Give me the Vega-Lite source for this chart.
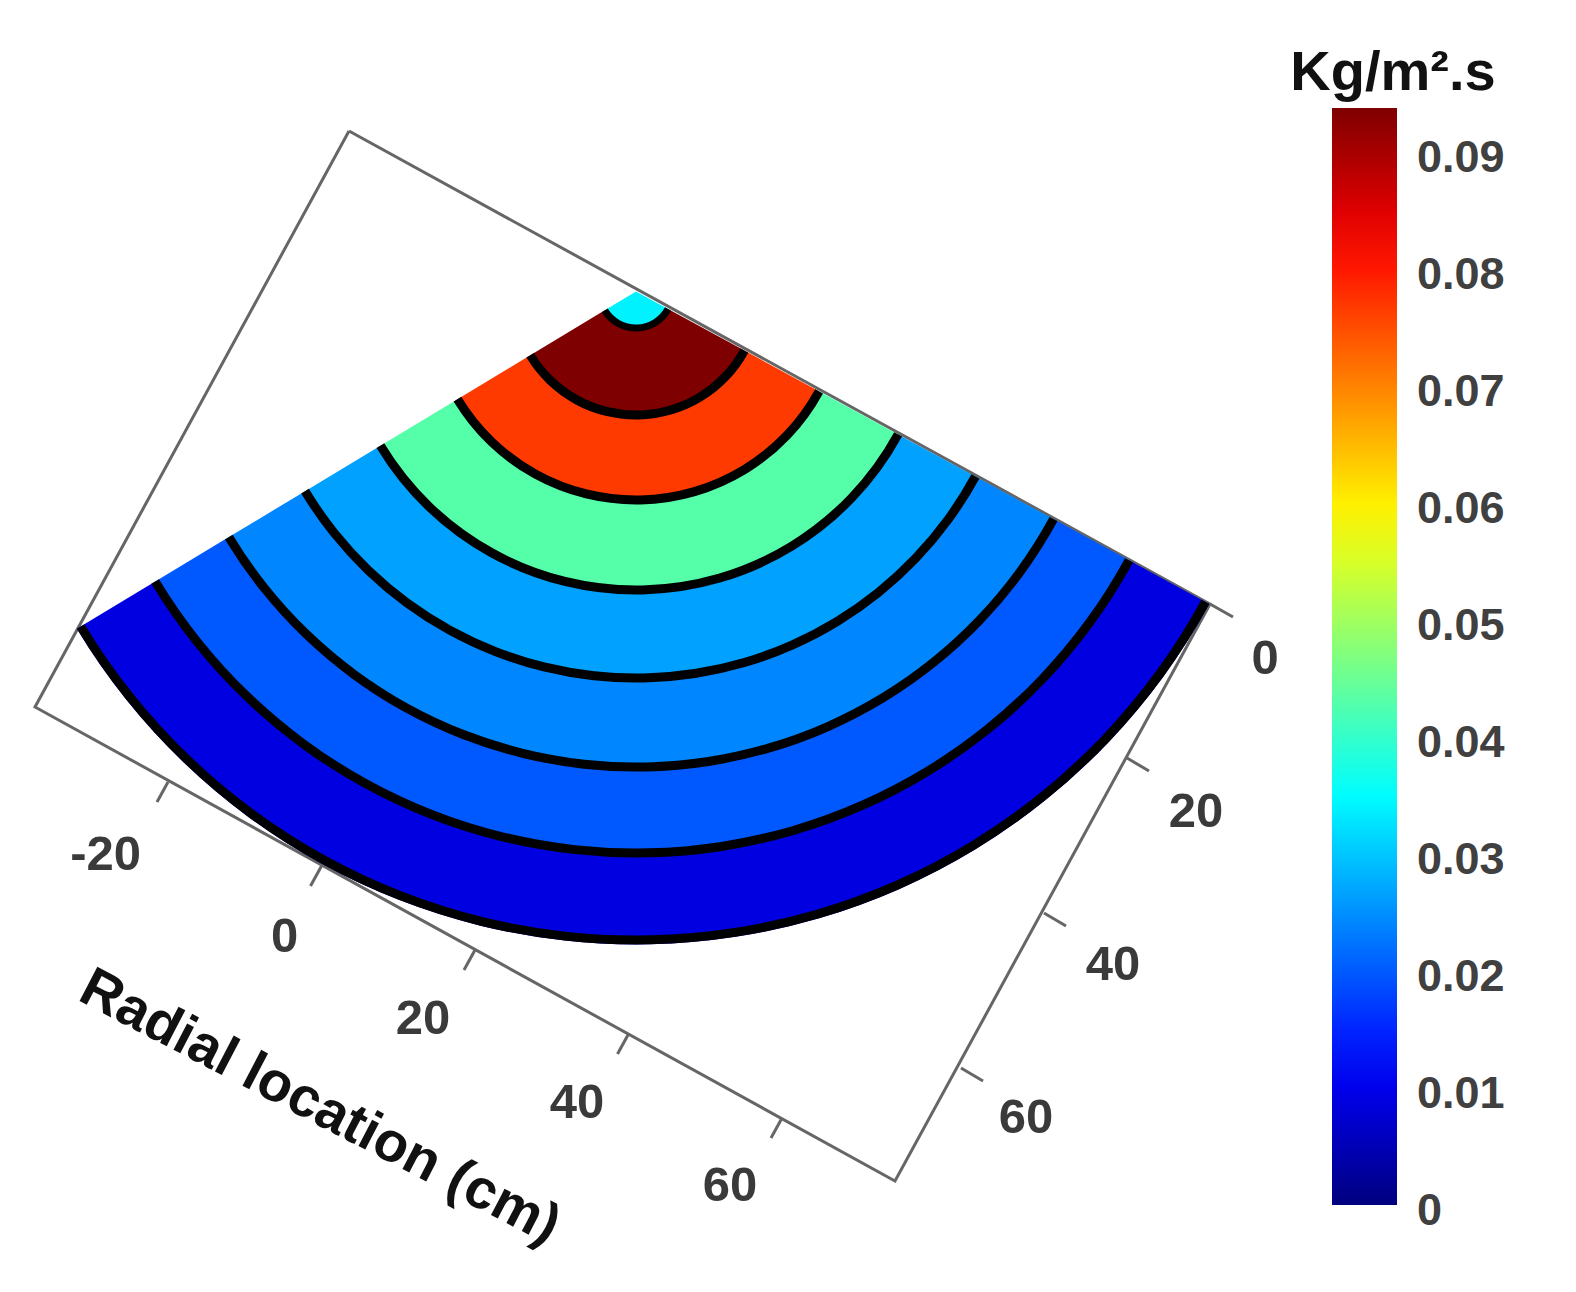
{
  "$schema": "https://vega.github.io/schema/vega-lite/v6.json",
  "width": 1576,
  "height": 1292,
  "padding": 0,
  "autosize": {"type": "fit", "contains": "padding"},
  "background": "white",
  "config": {"view": {"stroke": null}},
  "datasets": {
    "frame": [
      {"order": 1, "px": 34.9, "py": 13.1},
      {"order": 2, "px": 121.0, "py": 60.4},
      {"order": 3, "px": 89.5, "py": 118.1},
      {"order": 4, "px": 3.5, "py": 70.7},
      {"order": 5, "px": 34.9, "py": 13.1}
    ],
    "ticks": [
      {"px": 16.8, "py": 78.2, "px2": 15.7, "py2": 80.2},
      {"px": 32.15, "py": 86.6, "px2": 31.05, "py2": 88.6},
      {"px": 47.5, "py": 95.0, "px2": 46.4, "py2": 97.0},
      {"px": 62.85, "py": 103.4, "px2": 61.75, "py2": 105.4},
      {"px": 78.2, "py": 111.8, "px2": 77.1, "py2": 113.8},
      {"px": 121.0, "py": 60.4, "px2": 123.3, "py2": 61.7},
      {"px": 112.7, "py": 75.8, "px2": 114.9, "py2": 77.1},
      {"px": 104.4, "py": 91.3, "px2": 106.6, "py2": 92.6},
      {"px": 96.1, "py": 106.8, "px2": 98.3, "py2": 108.1}
    ],
    "bands": [
      {"flux": 0.0089, "r_in": 56.15, "r_out": 65.3},
      {"flux": 0.0199, "r_in": 47.55, "r_out": 56.15},
      {"flux": 0.02415, "r_in": 38.65, "r_out": 47.55},
      {"flux": 0.0265, "r_in": 29.85, "r_out": 38.65},
      {"flux": 0.043, "r_in": 20.85, "r_out": 29.85},
      {"flux": 0.0767, "r_in": 12.35, "r_out": 20.85},
      {"flux": 0.0938, "r_in": 3.65, "r_out": 12.35},
      {"flux": 0.034, "r_in": 0, "r_out": 3.65}
    ],
    "contours": [
      {"r_in": 3.3, "r_out": 4.0},
      {"r_in": 11.9, "r_out": 12.8},
      {"r_in": 20.4, "r_out": 21.3},
      {"r_in": 29.4, "r_out": 30.3},
      {"r_in": 38.2, "r_out": 39.1},
      {"r_in": 47.1, "r_out": 48.0},
      {"r_in": 55.7, "r_out": 56.6},
      {"r_in": 64.4, "r_out": 65.3}
    ],
    "tick_labels": [
      {"label": "-20", "px": 10.56, "py": 85.45},
      {"label": "0", "px": 28.45, "py": 93.7},
      {"label": "20", "px": 42.3, "py": 101.9},
      {"label": "40", "px": 57.7, "py": 110.3},
      {"label": "60", "px": 73.0, "py": 118.6},
      {"label": "0", "px": 126.5, "py": 65.85},
      {"label": "20", "px": 119.6, "py": 81.2},
      {"label": "40", "px": 111.3, "py": 96.5},
      {"label": "60", "px": 102.6, "py": 111.8}
    ]
  },
  "layer": [
    {
      "data": {"name": "frame"},
      "mark": {"type": "line", "color": "#666666", "strokeWidth": 3},
      "encoding": {
        "x": {"field": "px", "type": "quantitative", "axis": null, "scale": {"domain": [0, 157.6], "nice": false, "zero": false}},
        "y": {"field": "py", "type": "quantitative", "axis": null, "scale": {"domain": [129.2, 0], "nice": false, "zero": false}},
        "order": {"field": "order"}
      }
    },
    {
      "data": {"name": "ticks"},
      "mark": {"type": "rule", "color": "#666666", "strokeWidth": 3},
      "encoding": {
        "x": {"field": "px", "type": "quantitative"},
        "y": {"field": "py", "type": "quantitative"},
        "x2": {"field": "px2"},
        "y2": {"field": "py2"}
      }
    },
    {
      "data": {"name": "bands"},
      "mark": {"type": "arc"},
      "encoding": {
        "x": {"datum": 63.6, "type": "quantitative"},
        "y": {"datum": 29.15, "type": "quantitative"},
        "theta": {"datum": 118.6, "type": "quantitative", "scale": {"domain": [0, 360], "range": [0, 6.28319]}},
        "theta2": {"datum": 238.9},
        "radius": {"field": "r_out", "type": "quantitative", "scale": {"type": "linear", "domain": [0, 157.6], "range": [0, 1576], "zero": false, "nice": false}},
        "radius2": {"field": "r_in"},
        "color": {
          "field": "flux",
          "type": "quantitative",
          "scale": {
            "domain": [0, 0.011725, 0.035175, 0.058625, 0.082075, 0.0938],
            "range": ["#00007f", "#0000ff", "#00ffff", "#ffff00", "#ff0000", "#7f0000"],
            "interpolate": "rgb"
          },
          "legend": {
            "orient": "none",
            "legendX": 1332,
            "legendY": 108,
            "title": null,
            "gradientLength": 1097,
            "gradientThickness": 65,
            "values": [0, 0.01, 0.02, 0.03, 0.04, 0.05, 0.06, 0.07, 0.08, 0.09],
            "format": ".2~f",
            "labelFont": "Liberation Sans",
            "labelFontWeight": "bold",
            "labelFontSize": 45,
            "labelColor": "#404040",
            "labelOffset": 20,
            "labelOverlap": false,
            "tickCount": 10,
            "encoding": {"labels": {"baseline": {"value": "middle"}, "dy": {"value": 6}}}
          }
        }
      }
    },
    {
      "data": {"name": "contours"},
      "mark": {"type": "arc", "color": "black"},
      "encoding": {
        "x": {"datum": 63.6, "type": "quantitative"},
        "y": {"datum": 29.15, "type": "quantitative"},
        "theta": {"datum": 118.6, "type": "quantitative"},
        "theta2": {"datum": 238.9},
        "radius": {"field": "r_out", "type": "quantitative"},
        "radius2": {"field": "r_in"}
      }
    },
    {
      "data": {"name": "tick_labels"},
      "mark": {"type": "text", "font": "Liberation Sans", "fontWeight": "bold", "fontSize": 49, "color": "#3a3a3a", "align": "center", "baseline": "middle"},
      "encoding": {
        "x": {"field": "px", "type": "quantitative"},
        "y": {"field": "py", "type": "quantitative"},
        "text": {"field": "label"}
      }
    },
    {
      "data": {"values": [{"label": "Radial location (cm)", "px": 32.0, "py": 110.7}]},
      "mark": {"type": "text", "font": "Liberation Sans", "fontWeight": "bold", "fontSize": 56, "color": "#111111", "align": "center", "baseline": "middle", "angle": 27.5},
      "encoding": {
        "x": {"field": "px", "type": "quantitative"},
        "y": {"field": "py", "type": "quantitative"},
        "text": {"field": "label"}
      }
    },
    {
      "data": {"values": [{"label": "Kg/m².s", "px": 139.3, "py": 7.3}]},
      "mark": {"type": "text", "font": "Liberation Sans", "fontWeight": "bold", "fontSize": 56, "color": "#111111", "align": "center", "baseline": "middle"},
      "encoding": {
        "x": {"field": "px", "type": "quantitative"},
        "y": {"field": "py", "type": "quantitative"},
        "text": {"field": "label"}
      }
    }
  ]
}
